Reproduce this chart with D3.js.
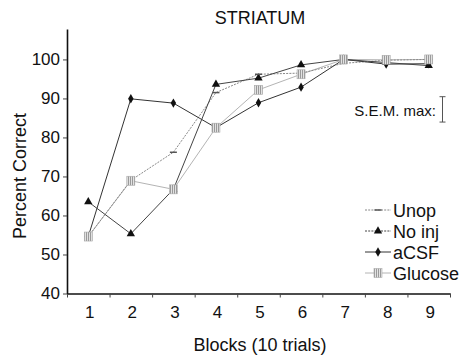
<!DOCTYPE html>
<html>
<head>
<meta charset="utf-8">
<script src="https://cdn.jsdelivr.net/npm/d3@7"></script>
<style>
  html, body { margin: 0; padding: 0; background: #fff; }
  svg text { font-family: "Liberation Sans", Arial, sans-serif; fill: #111; }
</style>
</head>
<body>
<svg id="chart" width="461" height="358"></svg>
<script>
// ---- data ----
const blocks = [1, 2, 3, 4, 5, 6, 7, 8, 9];
const yTicks = [40, 50, 60, 70, 80, 90, 100];
const unop    = [54.6, 69.0, 76.2, 91.5, 96.2, 96.5, 99.0, 99.8, 100.0];
const noInj   = [63.5, 55.3, 66.7, 93.6, 95.2, 98.6, 100.0, 99.2, 98.4];
const aCSF    = [54.6, 89.9, 88.8, 82.5, 88.9, 92.9, 100.0, 98.8, 98.9];
const glucose = [54.6, 68.9, 66.7, 82.5, 92.2, 96.2, 100.0, 99.9, 100.0];
const seriesNames = ["Unop", "No inj", "aCSF", "Glucose"];
const semMax = 6.5; // length of S.E.M. max bar in percent units

const svg = d3.select("#chart");

// pattern for striped squares
const defs = svg.append("defs");
const pat = defs.append("pattern").attr("id", "stripes")
  .attr("patternUnits", "userSpaceOnUse").attr("width", 2).attr("height", 2);
pat.append("rect").attr("width", 2).attr("height", 2).attr("fill", "#e2e2e2");
pat.append("rect").attr("width", 1).attr("height", 2).attr("fill", "#9a9a9a");

const x = d3.scaleLinear().domain([0.5, 9.5]).range([67, 450]);
const y = d3.scaleLinear().domain([40, 107.8]).range([293.5, 29]);

// axes
const gx = svg.append("g").attr("transform", `translate(0,${y(40)})`)
  .call(d3.axisBottom(x).tickValues(d3.range(0.5, 10, 1)).tickSize(4).tickSizeOuter(0).tickFormat(""));
gx.select(".domain").attr("stroke", "#111").attr("stroke-width", 1.6);
gx.selectAll(".tick line").attr("stroke", "#444");

const gxl = svg.append("g").attr("transform", `translate(1,${y(40)})`)
  .call(d3.axisBottom(x).tickValues(blocks).tickSize(0).tickPadding(12).tickFormat(d3.format("d")));
gxl.select(".domain").remove();
gxl.selectAll("text").attr("font-size", 17).attr("font-family", "Liberation Sans, Arial, sans-serif").attr("fill", "#111");

const gy = svg.append("g").attr("transform", `translate(${x(0.5)},0)`)
  .call(d3.axisLeft(y).tickValues(yTicks).tickSize(4).tickSizeOuter(0).tickPadding(3));
gy.select(".domain").attr("stroke", "#111").attr("stroke-width", 1.6);
gy.selectAll(".tick line").attr("stroke", "#444");
gy.selectAll("text").attr("font-size", 17).attr("font-family", "Liberation Sans, Arial, sans-serif").attr("fill", "#111");

// titles
svg.append("text").attr("x", 260).attr("y", 24).attr("text-anchor", "middle")
  .attr("font-size", 18).text("STRIATUM");
svg.append("text").attr("x", 260).attr("y", 351).attr("text-anchor", "middle")
  .attr("font-size", 18).text("Blocks (10 trials)");
svg.append("text").attr("transform", "translate(26,176) rotate(-90)").attr("text-anchor", "middle")
  .attr("font-size", 18).text("Percent Correct");

// series styling
const styles = [
  { name: seriesNames[0], data: unop,    stroke: "#888", width: 1.0, dash: "2,1.2", marker: "dash" },
  { name: seriesNames[1], data: noInj,   stroke: "#444", width: 1.0, dash: null, marker: "tri" },
  { name: seriesNames[2], data: aCSF,    stroke: "#333", width: 1.0, dash: null, marker: "dia" },
  { name: seriesNames[3], data: glucose, stroke: "#b4b4b4", width: 1.0, dash: null, marker: "sq" }
];

const line = d3.line().x((d, i) => x(blocks[i])).y(d => y(d));

function drawMarker(g, type, cx, cy) {
  if (type === "tri") {
    g.append("path").attr("d", d3.symbol(d3.symbolTriangle, 30)())
      .attr("transform", `translate(${cx},${cy})`).attr("fill", "#111");
  } else if (type === "dia") {
    g.append("path").attr("d", d3.symbol(d3.symbolDiamond, 26)())
      .attr("transform", `translate(${cx},${cy})`).attr("fill", "#111");
  } else if (type === "sq") {
    g.append("rect").attr("x", cx - 4).attr("y", cy - 4.5).attr("width", 8).attr("height", 9)
      .attr("fill", "url(#stripes)").attr("stroke", "#aaa").attr("stroke-width", 0.6);
  } else if (type === "dash") {
    g.append("line").attr("x1", cx - 3.5).attr("x2", cx + 3.5).attr("y1", cy).attr("y2", cy)
      .attr("stroke", "#555").attr("stroke-width", 1.5);
  }
}

// draw lines first (glucose beneath), then markers
const drawOrder = [3, 0, 2, 1];
drawOrder.forEach(k => {
  const s = styles[k];
  svg.append("path").attr("d", line(s.data)).attr("fill", "none")
    .attr("stroke", s.stroke).attr("stroke-width", s.width)
    .attr("stroke-dasharray", s.dash);
});
const mg = svg.append("g");
[2, 1, 0, 3].forEach(k => {
  const s = styles[k];
  s.data.forEach((d, i) => drawMarker(mg, s.marker, x(blocks[i]), y(d)));
});

// S.E.M. max bar
const semX = 442.5, semTop = 96.7;
const semBottom = semTop + (y(40) - y(40 + semMax));
svg.append("line").attr("x1", semX).attr("x2", semX).attr("y1", semTop).attr("y2", semBottom)
  .attr("stroke", "#555").attr("stroke-width", 1);
[semTop, semBottom].forEach(v => svg.append("line").attr("x1", semX - 3).attr("x2", semX + 3)
  .attr("y1", v).attr("y2", v).attr("stroke", "#555").attr("stroke-width", 1));
svg.append("text").attr("x", 436).attr("y", 116).attr("text-anchor", "end")
  .attr("font-size", 15).text("S.E.M. max:");

// legend
const legY = [210, 231, 252, 273];
styles.forEach((s, i) => {
  const g = svg.append("g");
  g.append("line").attr("x1", 365).attr("x2", 391).attr("y1", legY[i]).attr("y2", legY[i])
    .attr("stroke", s.stroke).attr("stroke-width", s.width)
    .attr("stroke-dasharray", s.marker === "tri" ? "2,1.2" : s.dash);
  drawMarker(g, s.marker, 378, legY[i]);
  g.append("text").attr("x", 393).attr("y", legY[i] + 6.5).attr("font-size", 18).text(s.name);
});
</script>
</body>
</html>
